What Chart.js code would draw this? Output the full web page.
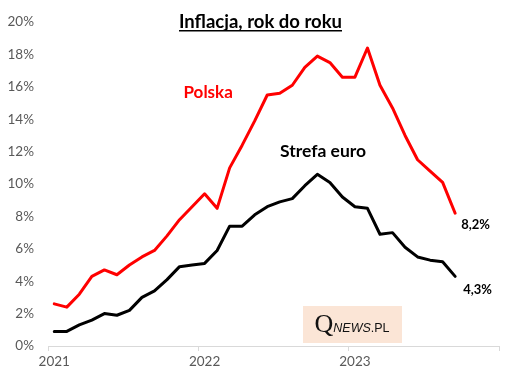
<!DOCTYPE html>
<html><head><meta charset="utf-8">
<script src="https://cdn.jsdelivr.net/npm/chart.js@4"></script>
<style>html,body{margin:0;padding:0;background:#fff}</style>
</head><body>
<canvas id="c" width="514" height="382"></canvas>
<script>
const months = [
  '01.2021','02.2021','03.2021','04.2021','05.2021','06.2021','07.2021','08.2021','09.2021','10.2021','11.2021','12.2021',
  '01.2022','02.2022','03.2022','04.2022','05.2022','06.2022','07.2022','08.2022','09.2022','10.2022','11.2022','12.2022',
  '01.2023','02.2023','03.2023','04.2023','05.2023','06.2023','07.2023','08.2023','09.2023','10.2023','11.2023','12.2023'
];
const yearLabels = ['2021','2022','2023'];
const polska = [2.6,2.4,3.2,4.3,4.7,4.4,5.0,5.5,5.9,6.8,7.8,8.6,
                9.4,8.5,11.0,12.4,13.9,15.5,15.6,16.1,17.2,17.9,17.5,16.6,
                16.6,18.4,16.1,14.7,13.0,11.5,10.8,10.1,8.2];
const strefaEuro = [0.9,0.9,1.3,1.6,2.0,1.9,2.2,3.0,3.4,4.1,4.9,5.0,
                    5.1,5.9,7.4,7.4,8.1,8.6,8.9,9.1,9.9,10.6,10.1,9.2,
                    8.6,8.5,6.9,7.0,6.1,5.5,5.3,5.2,4.3];
const yTicks = [0,2,4,6,8,10,12,14,16,18,20];
const titleText = 'Inflacja, rok do roku';
const lastPolska = '8,2%';
const lastEuro = '4,3%';

const FONT = 'Lato';
const AXIS_GRAY = '#d9d9d9';

const overlay = {
  id: 'overlay',
  afterDraw(chart) {
    const ctx = chart.ctx;
    const xs = chart.scales.x, ys = chart.scales.y;
    ctx.save();
    ctx.textBaseline = 'alphabetic';
    // title
    ctx.font = `bold 18.5px ${FONT}`;
    ctx.fillStyle = '#000';
    ctx.textAlign = 'center';
    const tx = 260.5;
    ctx.fillText(titleText, tx, 28);
    const tw = ctx.measureText(titleText).width;
    ctx.fillRect(tx - tw / 2, 30, tw, 1.5);
    // series labels
    ctx.textAlign = 'left';
    ctx.font = `bold 17px ${FONT}`;
    ctx.fillStyle = '#ff0000';
    ctx.fillText('Polska', 183.5, 98);
    ctx.fillStyle = '#000';
    ctx.font = `bold 17.5px ${FONT}`;
    ctx.fillText('Strefa euro', 280, 157);
    // last value labels
    const lp = polska.length - 1, le = strefaEuro.length - 1;
    ctx.font = `bold 13px ${FONT}`;
    ctx.fillText(lastPolska, xs.getPixelForValue(lp) + 6, ys.getPixelForValue(polska[lp]) + 16);
    ctx.fillText(lastEuro, xs.getPixelForValue(le) + 8, ys.getPixelForValue(strefaEuro[le]) + 18);
    // watermark
    ctx.fillStyle = '#fbe5d6';
    ctx.fillRect(303, 306, 99, 37);
    ctx.fillStyle = '#111';
    ctx.font = '26px "Liberation Serif"';
    ctx.fillText('Q', 314.5, 332);
    const qw = ctx.measureText('Q').width;
    ctx.font = `italic 12.5px "Liberation Sans"`;
    ctx.fillText('NEWS', 314.5 + qw, 331.5);
    const nw = ctx.measureText('NEWS').width;
    ctx.font = `12.5px "Liberation Sans"`;
    ctx.fillText('.PL', 314.5 + qw + nw, 331.5);
    ctx.restore();
  }
};

new Chart(document.getElementById('c'), {
  type: 'line',
  data: {
    labels: months,
    datasets: [
      { label: 'Polska', data: polska, borderColor: '#ff0000', borderWidth: 3, pointRadius: 0, tension: 0, fill: false, borderJoinStyle: 'round', borderCapStyle: 'round' },
      { label: 'Strefa euro', data: strefaEuro, borderColor: '#000000', borderWidth: 3, pointRadius: 0, tension: 0, fill: false, borderJoinStyle: 'round', borderCapStyle: 'round' }
    ]
  },
  options: {
    responsive: false,
    animation: false,
    devicePixelRatio: 1,
    layout: { padding: { top: 16, right: 15, left: 0, bottom: 0 } },
    plugins: { legend: { display: false }, tooltip: { enabled: false }, title: { display: false } },
    scales: {
      x: {
        type: 'category',
        offset: true,
        grid: {
          offset: true,
          drawOnChartArea: false,
          drawTicks: true,
          tickLength: 5,
          lineWidth: 1,
          color: c => (c.type !== 'tick' || c.index % 12 === 0) ? AXIS_GRAY : 'rgba(0,0,0,0)'
        },
        border: { display: true, color: AXIS_GRAY, width: 1 },
        ticks: {
          autoSkip: false, maxRotation: 0, minRotation: 0,
          color: '#595959', font: { family: FONT, size: 13.5 }, padding: 3,
          callback: (v, i) => (i % 12 === 0) ? yearLabels[i / 12] : ''
        },
        afterFit: a => { a.height = 36; }
      },
      y: {
        min: 0, max: 20,
        afterBuildTicks: a => { a.ticks = yTicks.map(v => ({ value: v })); },
        grid: { display: false, drawTicks: false, tickLength: 0 },
        border: { display: false },
        ticks: { color: '#595959', font: { family: FONT, size: 13.5 }, padding: 14, callback: v => v + '%' },
        afterFit: a => { a.width = 48; }
      }
    }
  },
  plugins: [overlay]
});
</script>
</body></html>
